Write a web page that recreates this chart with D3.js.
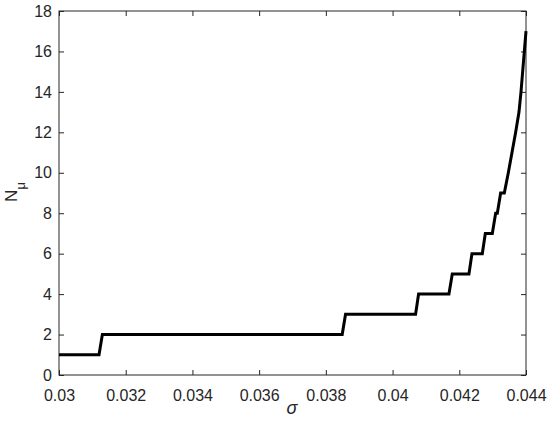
<!DOCTYPE html>
<html>
<head>
<meta charset="utf-8">
<script src="https://cdn.jsdelivr.net/npm/d3@7"></script>
<style>
  body { margin: 0; background: #fff; }
  svg text { font-family: "Liberation Sans", Arial, sans-serif; }
</style>
</head>
<body>
<div id="viz"></div>
<script>
// step curve
var sigma = [0.03, 0.0312, 0.0313, 0.03849, 0.03859, 0.04069, 0.04078, 0.04169, 0.04179,
             0.04229, 0.04238, 0.04269, 0.04278, 0.04299, 0.04309, 0.04314, 0.04324, 0.04335,
             0.04347, 0.04358, 0.04369, 0.04379, 0.04385, 0.0439, 0.04395, 0.044];
var nmu = [1, 1, 2, 2, 3, 3, 4, 4, 5,
           5, 6, 6, 7, 7, 8, 8, 9, 9,
           10, 11, 12, 13, 14, 15, 16, 17];
var xTicks = [0.03, 0.032, 0.034, 0.036, 0.038, 0.04, 0.042, 0.044];
var yTicks = [0, 2, 4, 6, 8, 10, 12, 14, 16, 18];

var margin = { top: 11, right: 24, bottom: 57, left: 59 },
    width = 550 - margin.left - margin.right,
    height = 432 - margin.top - margin.bottom;

var svg = d3.select('#viz').append('svg')
    .attr('width', 550)
    .attr('height', 432);

var g = svg.append('g')
    .attr('transform', 'translate(' + margin.left + ',' + margin.top + ')');

var x = d3.scaleLinear().domain([0.03, 0.044]).range([0, width]);
var y = d3.scaleLinear().domain([0, 18]).range([height, 0]);

function styleAxis(sel, showText) {
  sel.select('.domain').remove();
  sel.selectAll('line').attr('stroke', '#262626');
  sel.selectAll('text')
    .attr('fill', '#262626')
    .style('font-size', '16px');
  if (!showText) sel.selectAll('text').remove();
}

// bottom / left with labels, top / right mirrored ticks
g.append('g')
  .attr('transform', 'translate(0,' + height + ')')
  .call(d3.axisBottom(x).tickValues(xTicks).tickSizeInner(-5).tickSizeOuter(0)
        .tickPadding(15).tickFormat(d3.format('')))
  .call(styleAxis, true);

g.append('g')
  .call(d3.axisTop(x).tickValues(xTicks).tickSizeInner(-5).tickSizeOuter(0))
  .call(styleAxis, false);

g.append('g')
  .call(d3.axisLeft(y).tickValues(yTicks).tickSizeInner(-5).tickSizeOuter(0)
        .tickPadding(7))
  .call(styleAxis, true);

g.append('g')
  .attr('transform', 'translate(' + width + ',0)')
  .call(d3.axisRight(y).tickValues(yTicks).tickSizeInner(-5).tickSizeOuter(0))
  .call(styleAxis, false);

g.append('rect')
  .attr('width', width)
  .attr('height', height)
  .attr('fill', 'none')
  .attr('stroke', '#262626')
  .attr('stroke-width', 1);

var line = d3.line()
  .x(function(d, i) { return x(sigma[i]); })
  .y(function(d) { return y(d); });

g.append('path')
  .datum(nmu)
  .attr('fill', 'none')
  .attr('stroke', '#000')
  .attr('stroke-width', 3)
  .attr('stroke-linejoin', 'miter')
  .attr('d', line);

// axis labels
svg.append('text')
  .attr('x', 292)
  .attr('y', 414)
  .attr('text-anchor', 'middle')
  .style('font-size', '18px')
  .style('font-style', 'italic')
  .attr('fill', '#262626')
  .text('σ');

var yl = svg.append('text')
  .attr('transform', 'translate(17,192) rotate(-90)')
  .attr('text-anchor', 'middle')
  .attr('fill', '#262626')
  .style('font-size', '17px');
yl.append('tspan').text('N');
yl.append('tspan')
  .attr('dy', 8)
  .style('font-size', '13px')
  .text('μ');
</script>
</body>
</html>
